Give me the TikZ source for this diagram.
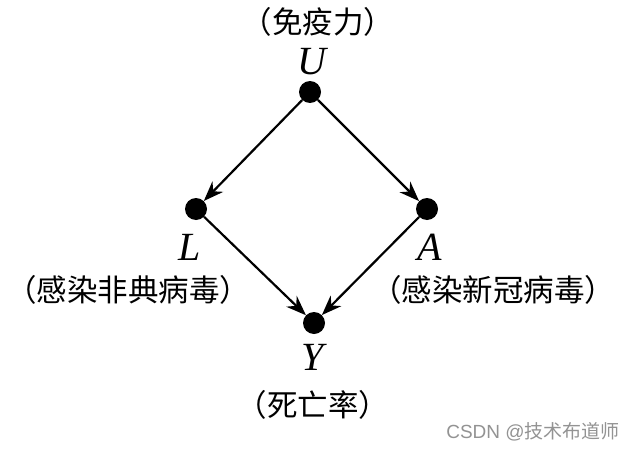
\documentclass[tikz,border=0pt]{standalone}
\usepackage{fontspec}
\setmainfont{Liberation Serif}
\newfontfamily\cjk{Noto Sans CJK SC}
\newfontfamily\wm{Liberation Sans}
\usetikzlibrary{arrows.meta}
\begin{document}
\begin{tikzpicture}[x=1pt,y=-1pt,
  dot/.style={circle,fill=black,inner sep=0pt,minimum size=22pt},
  edge/.style={-{Stealth[length=20pt,width=15pt]},line width=2.2pt,shorten >=0pt},
  var/.style={inner sep=0pt,font=\fontsize{40}{42}\selectfont\itshape},
  zh/.style={inner sep=0pt,font=\fontsize{30.5}{32}\selectfont\cjk}]
\useasboundingbox[fill=white] (0,0) rectangle (634,452);
\node[dot] (u) at (310,92) {};
\node[dot] (l) at (196,209) {};
\node[dot] (a) at (427,209) {};
\node[dot] (y) at (314,323) {};
\draw[edge] (u) -- (l);
\draw[edge] (u) -- (a);
\draw[edge] (l) -- (y);
\draw[edge] (a) -- (y);
\node[var] (ut) at (312,62) {U};
\node[var] (lt) at (190,247) {L};
\node[var] (at) at (430,247) {A};
\node[var] (yt) at (313,357) {Y};
\node[zh] (uz) at (318,22) {（免疫力）};
\node[zh] (lz) at (128,290) {（感染非典病毒）};
\node[zh] (az) at (493,290) {（感染新冠病毒）};
\node[zh] (yz) at (313,405) {（死亡率）};
\node[inner sep=0pt,text=gray!85,font=\fontsize{19}{21}\selectfont\wm] (wmk) at (533,432) {CSDN @{\cjk 技术布道师}};
\end{tikzpicture}
\end{document}
